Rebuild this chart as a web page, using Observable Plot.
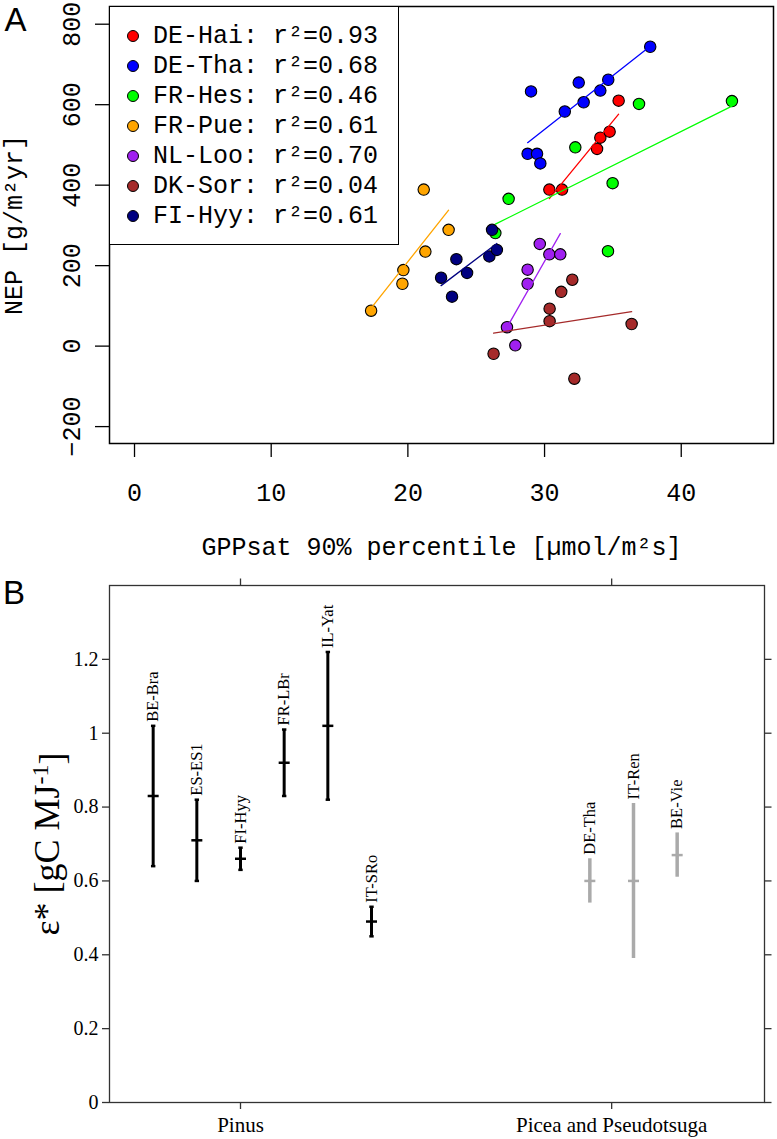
<!DOCTYPE html>
<html>
<head>
<meta charset="utf-8">
<script src="https://cdn.jsdelivr.net/npm/d3@7"></script>
<script src="https://cdn.jsdelivr.net/npm/@observablehq/plot@0.6"></script>
<style>
  html, body { margin: 0; padding: 0; background: #fff; }
  #wrap { position: relative; width: 777px; height: 1139px; overflow: hidden; background: #fff; }
  #panelA { position: absolute; left: 0; top: 0; }
  #panelB { position: absolute; left: 0; top: 560px; }
  #legendA {
    position: absolute; left: 109px; top: 6px; width: 290px; height: 239px;
    box-sizing: border-box; border: 1.4px solid #000; background: #fff;
    font-family: "Liberation Mono", monospace; font-size: 25px; color: #000;
  }
  #legendA .row { position: absolute; left: 0; height: 30px; display: flex; align-items: center; white-space: pre; }
  #legendA .sw { width: 10px; height: 10px; border-radius: 50%; border: 1px solid #000; margin-left: 17px; margin-right: 14px; }
</style>
</head>
<body>
<div id="wrap">
  <div id="panelA"></div>
  <div id="legendA"></div>
  <div id="panelB"></div>
</div>
<script>
// ---------------- Panel A data ----------------
const sites = ["DE-Hai", "DE-Tha", "FR-Hes", "FR-Pue", "NL-Loo", "DK-Sor", "FI-Hyy"];
const r2 = ["0.93", "0.68", "0.46", "0.61", "0.70", "0.04", "0.61"];
const siteColors = ["#ff0000", "#0000ff", "#00ff00", "#ffa500", "#a020f0", "#a52a2a", "#000080"];

const gppDEHai = [30.35, 31.28, 33.84, 34.08, 34.76, 35.42];
const nepDEHai = [389, 389, 490, 518, 533, 610];
const gppDETha = [28.76, 29.45, 29.69, 29.01, 31.48, 32.86, 34.08, 32.50, 34.66, 37.73];
const nepDETha = [478, 478, 454, 633, 583, 606, 635, 655, 662, 744];
const gppFRHes = [26.40, 27.37, 32.25, 34.64, 34.98, 36.91, 43.71];
const nepFRHes = [281, 366, 494, 236, 405, 602, 609];
const gppFRPue = [17.31, 19.60, 19.67, 21.16, 21.28, 22.98];
const nepFRPue = [88, 155, 189, 389, 235, 289];
const gppNLLoo = [27.25, 27.86, 28.76, 28.76, 29.65, 30.35, 31.15];
const nepNLLoo = [47, 2, 155, 190, 254, 228, 228];
const gppDKSor = [26.27, 30.37, 30.37, 31.22, 32.03, 32.18, 36.37];
const nepDKSor = [-19, 62, 93, 135, 165, -81, 55];
const gppFIHyy = [22.43, 23.23, 23.55, 24.33, 25.96, 26.16, 26.51];
const nepFIHyy = [170, 123, 216, 182, 223, 289, 239];

const xTicksA = [0, 10, 20, 30, 40];
const yTicksA = [-200, 0, 200, 400, 600, 800];
const xLabelA = "GPPsat 90% percentile [µmol/m²s]";
const yLabelA = "NEP [g/m²yr]";

// ---------------- Panel B data ----------------
const bSites = ["BE-Bra", "ES-ES1", "FI-Hyy", "FR-LBr", "IL-Yat", "IT-SRo", "DE-Tha", "IT-Ren", "BE-Vie"];
const bGroup = ["Pinus", "Pinus", "Pinus", "Pinus", "Pinus", "Pinus",
                "Picea and Pseudotsuga", "Picea and Pseudotsuga", "Picea and Pseudotsuga"];
const bSlot = [1, 2, 3, 4, 5, 6, 11, 12, 13];
const bMean = [0.83, 0.71, 0.66, 0.92, 1.02, 0.49, 0.60, 0.60, 0.67];
const bLow  = [0.64, 0.60, 0.63, 0.83, 0.82, 0.45, 0.54, 0.39, 0.61];
const bHigh = [1.02, 0.82, 0.69, 1.01, 1.22, 0.53, 0.66, 0.81, 0.73];
const groupNames = ["Pinus", "Picea and Pseudotsuga"];
const groupTicks = [3, 11.5];
const groupColors = ["#000000", "#aaaaaa"];
const yTicksB = [0, 0.2, 0.4, 0.6, 0.8, 1, 1.2];

// ---------------- Build tables ----------------
const gppBySite = [gppDEHai, gppDETha, gppFRHes, gppFRPue, gppNLLoo, gppDKSor, gppFIHyy];
const nepBySite = [nepDEHai, nepDETha, nepFRHes, nepFRPue, nepNLLoo, nepDKSor, nepFIHyy];
const pointsA = sites.flatMap((s, i) => gppBySite[i].map((g, j) => ({site: s, gpp: g, nep: nepBySite[i][j]})));

const tableB = bSites.map((s, i) => ({
  site: s, group: bGroup[i], slot: bSlot[i], mean: bMean[i], low: bLow[i], high: bHigh[i],
  color: groupColors[groupNames.indexOf(bGroup[i])]
}));

// custom symbols
const hline = {draw(ctx, size) { const r = Math.sqrt(size / Math.PI); ctx.moveTo(-r, 0); ctx.lineTo(r, 0); }};
const tickRight = {draw(ctx) { ctx.moveTo(0, 0); ctx.lineTo(7, 0); }};
const tickUp = {draw(ctx) { ctx.moveTo(0, 0); ctx.lineTo(0, -7); }};

// ---------------- Panel A ----------------
const siteMarks = sites.flatMap((s, i) => {
  const d = pointsA.filter(p => p.site === s);
  return [
    Plot.dot(d, {x: "gpp", y: "nep", r: 5.7, fill: siteColors[i], stroke: "#000", strokeWidth: 1.1}),
    Plot.linearRegressionY(d, {x: "gpp", y: "nep", stroke: siteColors[i], strokeWidth: 1.3, ci: 0})
  ];
});

const plotA = Plot.plot({
  width: 777, height: 560,
  marginLeft: 109, marginRight: 4, marginTop: 6, marginBottom: 117,
  x: {domain: [-1.83, 46.75]},
  y: {domain: [-242, 844]},
  style: {fontFamily: "'Liberation Mono', monospace", fontSize: "25px", color: "#000", background: "transparent", overflow: "visible"},
  marks: [
    Plot.frame({stroke: "#000", strokeWidth: 1.5}),
    Plot.axisX(xTicksA, {tickSize: 14, tickPadding: 26, fontSize: 25, label: null, stroke: "#000", strokeWidth: 1.3}),
    Plot.axisY(yTicksA, {tickSize: 14, tickPadding: 16, tickRotate: -90, fontSize: 25, label: null, stroke: "#000", strokeWidth: 1.3}),
    ...siteMarks,
    Plot.text([xLabelA], {text: d => d, frameAnchor: "bottom", dy: 103, textAnchor: "middle", lineAnchor: "middle", fontSize: 25}),
    Plot.text([yLabelA], {text: d => d, frameAnchor: "left", dx: -96, rotate: -90, textAnchor: "middle", lineAnchor: "middle", fontSize: 25}),
    Plot.text(["A"], {text: d => d, frameAnchor: "top-left", dx: -94, dy: 14, textAnchor: "middle", lineAnchor: "middle", fontSize: 33, fontFamily: "'Liberation Sans', Arial, sans-serif"})
  ]
});
document.getElementById("panelA").appendChild(plotA);

// legend
const leg = d3.select("#legendA");
sites.forEach((s, i) => {
  const row = leg.append("div").attr("class", "row").style("top", (14 + 30 * i) + "px");
  row.append("span").attr("class", "sw").style("background", siteColors[i]);
  row.append("span").text(`${s}: r²=${r2[i]}`);
});

// ---------------- Panel B ----------------
const plotB = Plot.plot({
  width: 777, height: 579,
  marginLeft: 109, marginRight: 13, marginTop: 25, marginBottom: 37,
  x: {domain: [0, 15]},
  y: {domain: [0, 1.4]},
  style: {fontFamily: "'Liberation Serif', 'Times New Roman', serif", fontSize: "20px", color: "#000", background: "transparent", overflow: "visible"},
  marks: [
    Plot.frame({stroke: "#333", strokeWidth: 1.3}),
    Plot.axisY(yTicksB, {tickSize: 7, tickPadding: 4, fontSize: 20, label: null, tickFormat: d => String(d), stroke: "#333", strokeWidth: 1.3}),
    Plot.axisX(groupTicks, {tickSize: 7, tickPadding: 8, fontSize: 21, label: null, tickFormat: (d, i) => groupNames[i], stroke: "#333", strokeWidth: 1.3}),
    Plot.dot(yTicksB, {y: d => d, frameAnchor: "right", symbol: tickRight, fill: "none", stroke: "#333", strokeWidth: 1.3}),
    Plot.dot(groupTicks, {x: d => d, frameAnchor: "top", symbol: tickUp, fill: "none", stroke: "#333", strokeWidth: 1.3}),
    Plot.ruleX(tableB, {x: "slot", y1: "low", y2: "high", stroke: "color", strokeWidth: d => d.group === "Pinus" ? 3 : 3.5}),
    Plot.dot(tableB.filter(d => d.group === "Pinus"), {x: "slot", y: "low", symbol: hline, r: 2.2, fill: "none", stroke: "color", strokeWidth: 2.5}),
    Plot.dot(tableB.filter(d => d.group === "Pinus"), {x: "slot", y: "high", symbol: hline, r: 2.2, fill: "none", stroke: "color", strokeWidth: 2.5}),
    Plot.dot(tableB, {x: "slot", y: "mean", symbol: hline, r: 5.5, fill: "none", stroke: "color", strokeWidth: 2.5}),
    Plot.text(tableB, {x: "slot", y: "high", text: "site", rotate: -90, textAnchor: "start", lineAnchor: "middle", dy: -4, fontSize: 16.5, fill: "#000"}),
    Plot.text(["ε* [gC MJ"], {text: d => d, frameAnchor: "left", dx: -62, rotate: -90, textAnchor: "middle", lineAnchor: "middle", fontSize: 36, className: "ylabB"}),
    Plot.text(["B"], {text: d => d, frameAnchor: "top-left", dx: -95.5, dy: 7.5, textAnchor: "middle", lineAnchor: "middle", fontSize: 33, fontFamily: "'Liberation Sans', Arial, sans-serif"})
  ]
});
document.getElementById("panelB").appendChild(plotB);

// add superscript to B y label
d3.select(plotB).selectAll(".ylabB text").each(function() {
  const t = d3.select(this);
  t.append("tspan").attr("dy", "-0.45em").attr("font-size", "24px").text("-1");
  t.append("tspan").attr("dy", "0.45em").text("]");
});
</script>
</body>
</html>
